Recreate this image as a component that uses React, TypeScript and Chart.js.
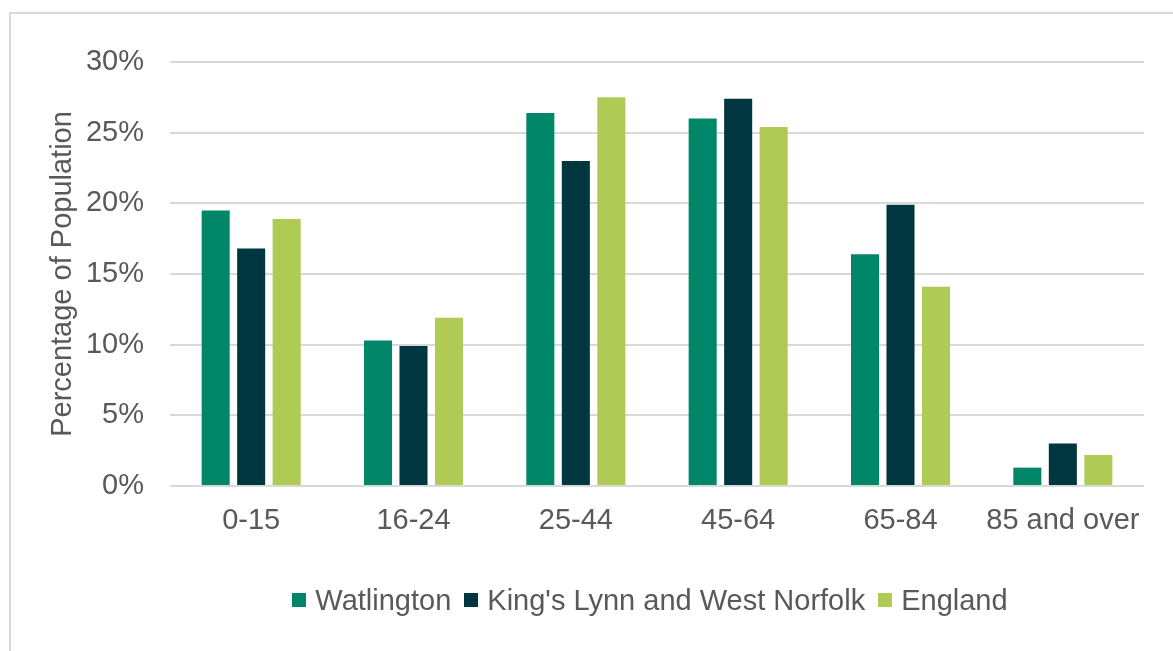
import React, { useEffect, useRef } from "react";
import { Chart, registerables } from "chart.js";

Chart.register(...registerables);

// Age bands shown along the x axis
const ageBands: string[] = ["0-15", "16-24", "25-44", "45-64", "65-84", "85 and over"];

// Share of population in each age band (%)
const watlington: number[] = [19.5, 10.3, 26.4, 26.0, 16.4, 1.3];
const kingsLynn: number[] = [16.8, 9.9, 23.0, 27.4, 19.9, 3.0];
const england: number[] = [18.9, 11.9, 27.5, 25.4, 14.1, 2.2];

const seriesNames: string[] = ["Watlington", "King's Lynn and West Norfolk", "England"];
const seriesColors: string[] = ["#00876A", "#00363F", "#B0CB55"];

// Y axis range and step (%)
const yMin = 0;
const yMax = 30;
const yStep = 5;

const FONT = "'Liberation Sans', Arial, sans-serif";
const TEXT_COLOR = "#595959";
const GRID_COLOR = "#D9D9D9";

export default function App() {
  const canvasRef = useRef<HTMLCanvasElement | null>(null);

  useEffect(() => {
    if (!canvasRef.current) return;
    const seriesValues = [watlington, kingsLynn, england];
    const chart = new Chart(canvasRef.current, {
      type: "bar",
      data: {
        labels: ageBands,
        datasets: seriesNames.map((name, i) => ({
          label: name,
          data: seriesValues[i],
          backgroundColor: seriesColors[i],
          borderWidth: 0,
          categoryPercentage: 0.656,
          barPercentage: 0.79,
        })),
      },
      options: {
        animation: false,
        responsive: true,
        maintainAspectRatio: false,
        layout: { padding: { top: 62, left: 0, right: 29, bottom: 100 } },
        plugins: {
          legend: { display: false },
          tooltip: { enabled: false },
        },
        scales: {
          x: {
            grid: { display: false, drawTicks: false },
            border: { display: false },
            ticks: {
              color: TEXT_COLOR,
              font: { family: FONT, size: 29 },
              padding: 18,
              maxRotation: 0,
              autoSkip: false,
            },
            afterFit: (scale: any) => {
              scale.height = 65;
            },
          },
          y: {
            min: yMin,
            max: yMax,
            grid: { color: GRID_COLOR, lineWidth: 2, drawTicks: false },
            border: { display: false },
            ticks: {
              stepSize: yStep,
              color: TEXT_COLOR,
              font: { family: FONT, size: 29 },
              padding: 26,
              callback: (v: any) => `${v}%`,
            },
            title: {
              display: true,
              text: "Percentage of Population",
              color: TEXT_COLOR,
              font: { family: FONT, size: 29, weight: "normal" },
              padding: { top: 46, bottom: 0 },
            },
            afterFit: (scale: any) => {
              scale.width = 170;
            },
          },
        },
      },
    });
    return () => chart.destroy();
  }, []);

  return (
    <div
      style={{
        position: "fixed",
        inset: 0,
        overflow: "hidden",
        background: "#FFFFFF",
        fontFamily: FONT,
      }}
    >
      <div
        style={{
          position: "absolute",
          left: 9,
          top: 12,
          width: 1400,
          height: 1000,
          border: `2px solid ${GRID_COLOR}`,
          boxSizing: "border-box",
        }}
      />
      <div style={{ position: "absolute", left: 0, top: 0, width: 1173, height: 651 }}>
        <canvas ref={canvasRef} />
      </div>
      <div
        style={{
          position: "absolute",
          left: 0,
          width: 1300,
          top: 583,
          height: 34,
          display: "flex",
          justifyContent: "center",
          alignItems: "center",
          color: TEXT_COLOR,
          fontSize: 29,
          lineHeight: "34px",
          whiteSpace: "nowrap",
        }}
      >
        {seriesNames.map((name, i) => (
          <div
            key={name}
            style={{ display: "flex", alignItems: "center", marginLeft: i === 0 ? 0 : 13 }}
          >
            <span
              style={{
                display: "inline-block",
                width: 14,
                height: 14,
                background: seriesColors[i],
                marginRight: 9,
              }}
            />
            <span>{name}</span>
          </div>
        ))}
      </div>
    </div>
  );
}
